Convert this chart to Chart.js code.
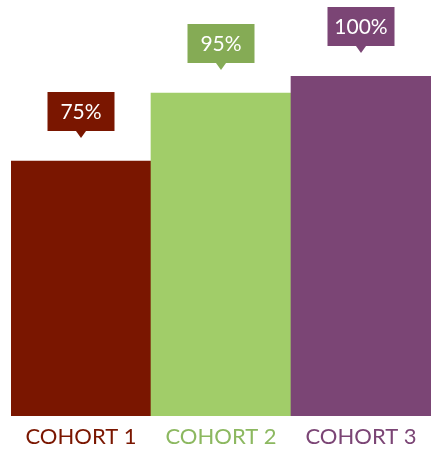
<!DOCTYPE html>
<html>
<head>
<meta charset="utf-8">
<script src="https://cdn.jsdelivr.net/npm/chart.js@4"></script>
<style>
  body { margin: 0; background: #fff; }
  #wrap { width: 431px; height: 450px; }
</style>
</head>
<body>
<div id="wrap"><canvas id="cohortChart"></canvas></div>
<script>
// chart data
const cohort_labels = ['COHORT 1', 'COHORT 2', 'COHORT 3']
const completion_values = [75, 95, 100]
const value_labels = ['75%', '95%', '100%']
const bar_colors = ['#7a1600', '#a1cd69', '#7b4575']
const callout_colors = ['#7a1600', '#85ab55', '#7b4575']
const tick_colors = ['#7a1600', '#8cb860', '#7b4575']

const FONT = 'Lato, "Open Sans", sans-serif'

// draws the little speech-box above every bar
const calloutPlugin = {
  id: 'callouts',
  afterDatasetsDraw(chart) {
    const ctx = chart.ctx
    const meta = chart.getDatasetMeta(0)
    meta.data.forEach((bar, i) => {
      const boxW = 67
      const boxH = 39
      const gap = 30
      const bottom = bar.y - gap
      const top = bottom - boxH
      const left = bar.x - boxW / 2

      ctx.save()
      ctx.fillStyle = callout_colors[i]
      ctx.fillRect(left, top, boxW, boxH)
      ctx.beginPath()
      ctx.moveTo(bar.x - 5, bottom)
      ctx.lineTo(bar.x + 5, bottom)
      ctx.lineTo(bar.x, bottom + 7)
      ctx.closePath()
      ctx.fill()

      ctx.fillStyle = '#ffffff'
      ctx.font = '21px ' + FONT
      ctx.textAlign = 'center'
      ctx.textBaseline = 'middle'
      ctx.fillText(value_labels[i], bar.x, top + boxH / 2 + 1)
      ctx.restore()
    })
  }
}

const ctx = document.getElementById('cohortChart').getContext('2d')

const chart = new Chart(ctx, {
  type: 'bar',
  data: {
    labels: cohort_labels,
    datasets: [
      {
        data: completion_values,
        backgroundColor: bar_colors,
        borderWidth: 0,
        barPercentage: 1,
        categoryPercentage: 1
      }
    ]
  },
  options: {
    responsive: true,
    maintainAspectRatio: false,
    animation: false,
    layout: {
      padding: { top: 76, left: 11, right: 0, bottom: 0 }
    },
    plugins: {
      legend: { display: false },
      tooltip: { enabled: false },
      title: { display: false }
    },
    scales: {
      x: {
        grid: { display: false },
        border: { display: false },
        ticks: {
          color: tick_colors,
          padding: 2,
          font: { family: FONT, size: 22, lineHeight: 1 }
        }
      },
      y: {
        display: false,
        min: 0,
        max: 100
      }
    }
  },
  plugins: [calloutPlugin]
})
</script>
</body>
</html>
